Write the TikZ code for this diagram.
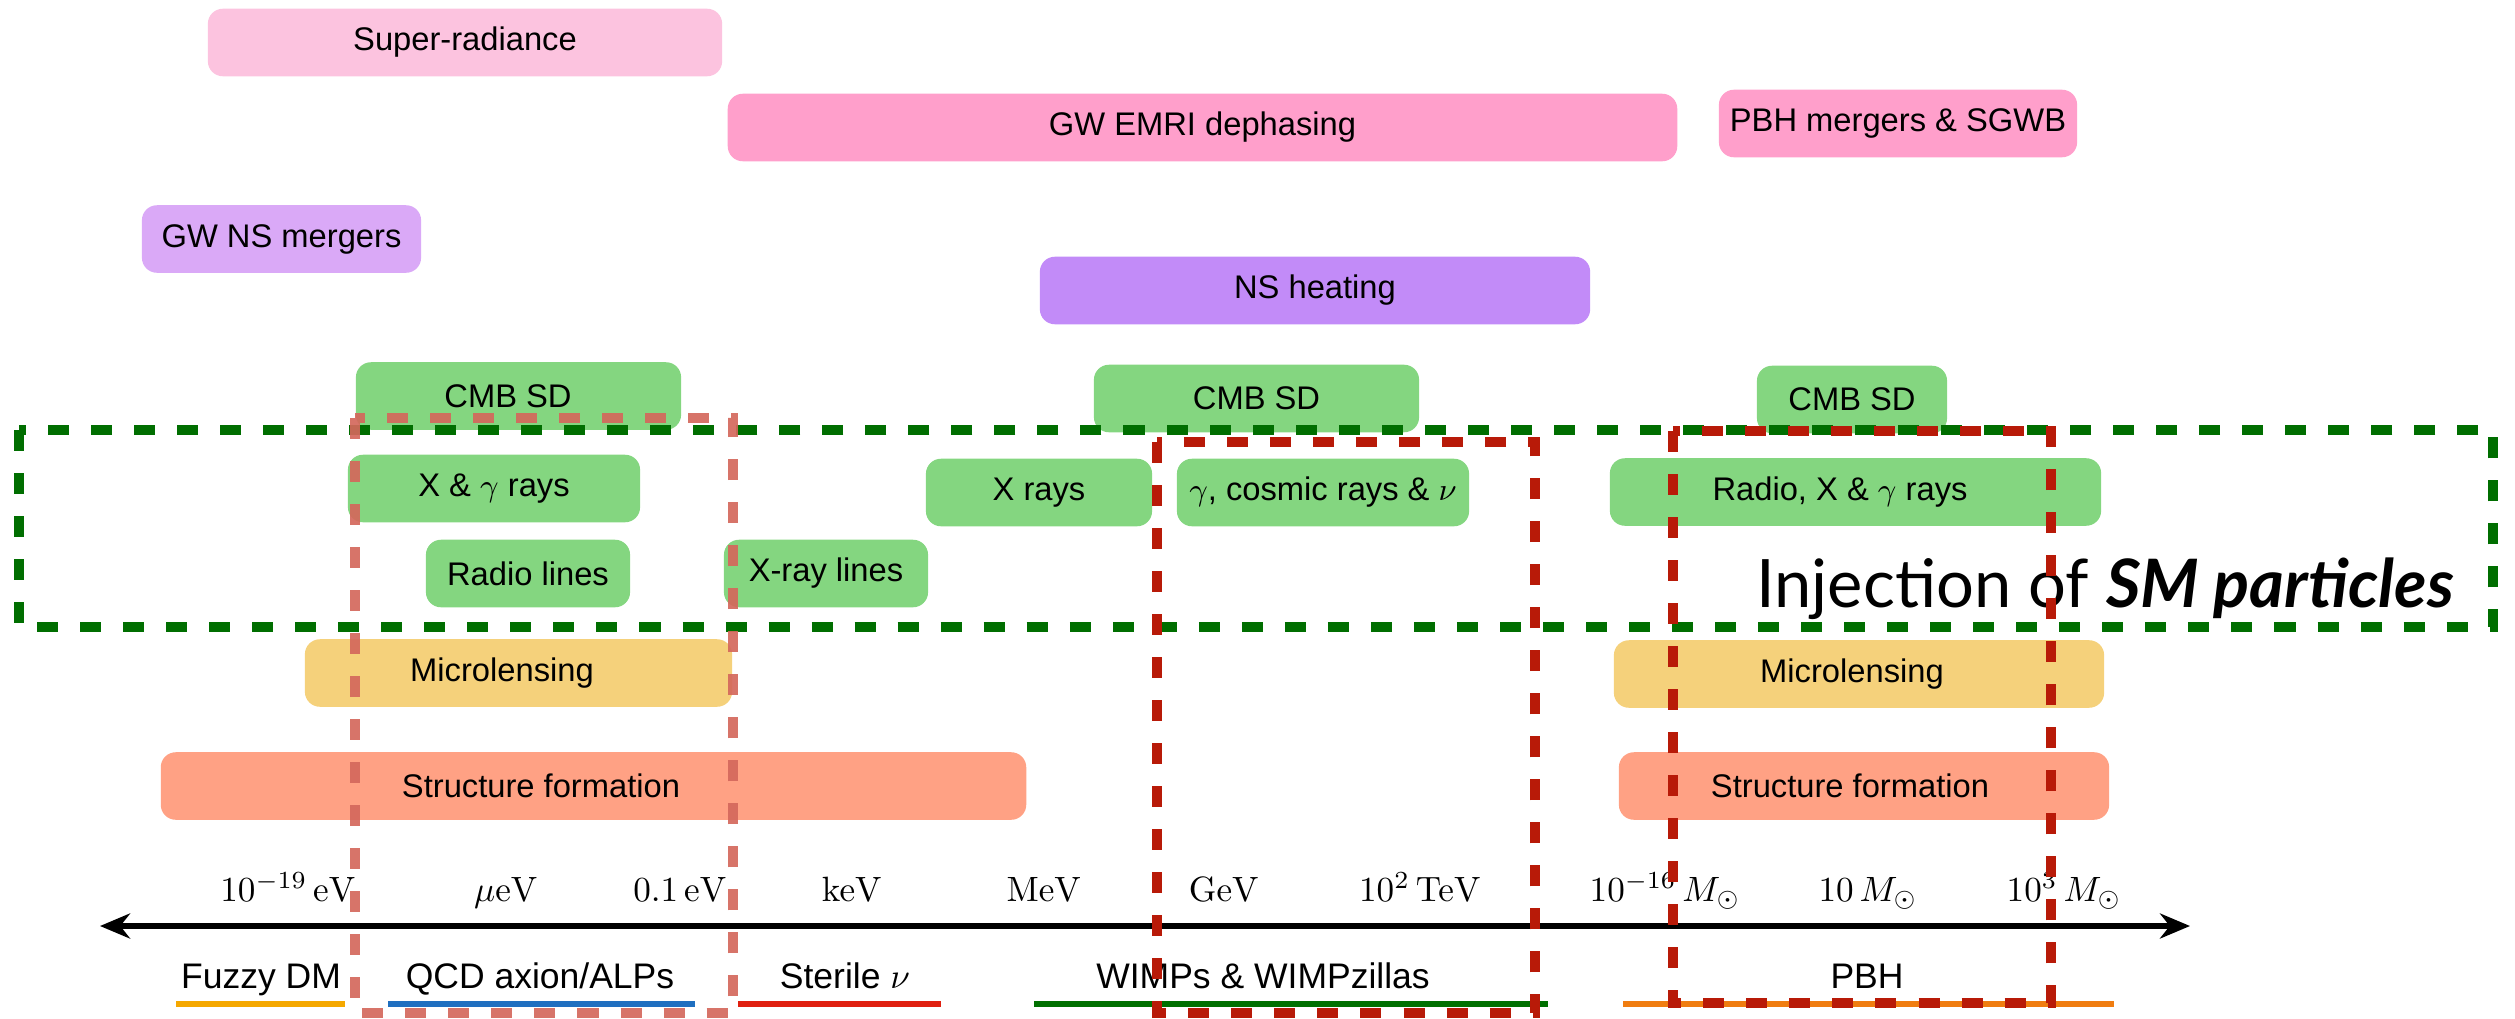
\documentclass[tikz,border=0pt]{standalone}
\usepackage[no-math]{fontspec}
\setmainfont{Liberation Sans}
\newfontfamily\injfam{Lato}
\usetikzlibrary{arrows.meta}
\definecolor{cSR}{HTML}{FCC3DF}
\definecolor{cGW}{HTML}{FF9FCB}
\definecolor{cNSM}{HTML}{DAA9F7}
\definecolor{cNSH}{HTML}{C28BF8}
\definecolor{cGr}{HTML}{84D680}
\definecolor{cMic}{HTML}{F5D17B}
\definecolor{cSF}{HTML}{FFA184}
\definecolor{cLR}{HTML}{D4685C}
\definecolor{cDR}{HTML}{B81A08}
\definecolor{cDG}{HTML}{006E00}
\definecolor{cFz}{HTML}{F5A800}
\definecolor{cQCD}{HTML}{1F6FC0}
\definecolor{cSt}{HTML}{E02010}
\definecolor{cWi}{HTML}{007000}
\definecolor{cPBH}{HTML}{F07D10}
\newcommand\bxfont{\fontsize{9.3}{11}\selectfont}
\newcommand\catfont{\fontsize{10.1}{12}\selectfont}
\newcommand\axfont{\fontsize{10.4}{12}\selectfont}
\begin{document}
\begin{tikzpicture}[x=0.01cm,y=-0.01cm,
  box/.style={fill=#1, draw=none, rounded corners=0.15cm, inner sep=0pt, minimum height=0.675cm, font=\bxfont},
  boxtext/.style={inner sep=0pt, font=\bxfont},
  dashbox/.style={line width=0.1cm, dash pattern=on 0.21cm off 0.22cm},
  axlabel/.style={anchor=base, inner sep=0pt, font=\axfont},
  catlabel/.style={anchor=base, inner sep=0pt, font=\catfont},
  catline/.style={line width=0.055cm}
]
\useasboundingbox (0,0) rectangle (2515,1018);

% method boxes
\node[box=cSR, minimum width=5.14cm] (sr) at (465,42.5) {Super-radiance};
\node[box=cGW, minimum width=9.49cm] (emri) at (1202.5,127.5) {GW EMRI dephasing};
\node[box=cGW, minimum width=3.58cm] (pbhm) at (1898,123.5) {PBH mergers \& SGWB};
\node[box=cNSM, minimum width=2.79cm] (nsm) at (281.5,239) {GW NS mergers};
\node[box=cNSH, minimum width=5.50cm] (nsh) at (1315,290.5) {NS heating};
\node[box=cGr, minimum width=3.25cm] (cmbL) at (518.5,396) {};
\node[boxtext] (cmbLt) at (508,396) {CMB SD};
\node[box=cGr, minimum width=3.25cm] (cmbM) at (1256.5,398.5) {CMB SD};
\node[box=cGr, minimum width=1.90cm] (cmbR) at (1852,399.5) {CMB SD};
\node[box=cGr, minimum width=2.92cm] (xg) at (494,488.5) {X \& $\gamma$ rays};
\node[box=cGr, minimum width=2.26cm] (xr) at (1039,492.5) {X rays};
\node[box=cGr, minimum width=2.92cm] (gcr) at (1323,492.5) {$\gamma$, cosmic rays \& $\nu$};
\node[box=cGr, minimum width=4.91cm] (rxg) at (1855.5,492) {};
\node[boxtext] (rxgt) at (1840,492) {Radio, X \& $\gamma$ rays};
\node[box=cGr, minimum width=2.04cm] (rl) at (528,573.5) {Radio lines};
\node[box=cGr, minimum width=2.04cm] (xl) at (826,573.5) {X-ray lines};
\node[box=cMic, minimum width=4.27cm] (micL) at (518.5,673) {};
\node[boxtext] (micLt) at (502,673) {Microlensing};
\node[box=cMic, minimum width=4.90cm] (micR) at (1859,674) {};
\node[boxtext] (micRt) at (1852,674) {Microlensing};
\node[box=cSF, minimum width=8.65cm] (sfL) at (593.5,786) {};
\node[boxtext] (sfLt) at (541,786) {Structure formation};
\node[box=cSF, minimum width=4.90cm] (sfR) at (1864,786) {};
\node[boxtext] (sfRt) at (1850,786) {Structure formation};

% green injection box
\draw[dashbox, cDG] (19,430) rectangle (2493,627);
\node[anchor=base east, inner sep=0pt, font=\injfam\fontsize{19}{22}\selectfont] (inj) at (2455,607) {Injection of \textbf{\textit{SM particles}}};

% axis
\coordinate (axL) at (100,926);
\coordinate (axR) at (2190,926);
\draw[line width=0.055cm, {Stealth[length=0.3cm,width=0.25cm]}-{Stealth[length=0.3cm,width=0.25cm]}] (axL) -- (axR);

\node[axlabel] (a1) at (288,901) {$10^{-19}\,\mathrm{eV}$};
\node[axlabel] (a2) at (506,901) {$\mu\mathrm{eV}$};
\node[axlabel] (a3) at (680,901) {$0.1\,\mathrm{eV}$};
\node[axlabel] (a4) at (852,901) {$\mathrm{keV}$};
\node[axlabel] (a5) at (1044,901) {$\mathrm{MeV}$};
\node[axlabel] (a6) at (1224,901) {$\mathrm{GeV}$};
\node[axlabel] (a7) at (1420,901) {$10^{2}\,\mathrm{TeV}$};
\node[axlabel] (a8) at (1665,901) {$10^{-16}\,M_\odot$};
\node[axlabel] (a9) at (1868,901) {$10\,M_\odot$};
\node[axlabel] (a10) at (2064,901) {$10^{3}\,M_\odot$};

% categories
\node[catlabel] (c1) at (261,988) {Fuzzy DM};
\node[catlabel] (c2) at (540,988) {QCD axion/ALPs};
\node[catlabel] (c3) at (845,988) {Sterile $\nu$};
\node[catlabel] (c4) at (1263,988) {WIMPs \& WIMPzillas};
\node[catlabel] (c5) at (1867,988) {PBH};
\coordinate (l1a) at (176,1004); \coordinate (l1b) at (345,1004);
\coordinate (l2a) at (388,1004); \coordinate (l2b) at (695,1004);
\coordinate (l3a) at (738,1004); \coordinate (l3b) at (941,1004);
\coordinate (l4a) at (1034,1004); \coordinate (l4b) at (1548,1004);
\coordinate (l5a) at (1623,1004); \coordinate (l5b) at (2114,1004);
\draw[catline, cFz] (l1a) -- (l1b);
\draw[catline, cQCD] (l2a) -- (l2b);
\draw[catline, cSt] (l3a) -- (l3b);
\draw[catline, cWi] (l4a) -- (l4b);
\draw[catline, cPBH] (l5a) -- (l5b);

% red dashed boxes
\draw[dashbox, cLR, opacity=0.92] (355,418) rectangle (733,1013);
\draw[dashbox, cDR] (1157,442) rectangle (1535,1013);
\draw[dashbox, cDR] (1673,431) rectangle (2051,1003);
\end{tikzpicture}
\end{document}
